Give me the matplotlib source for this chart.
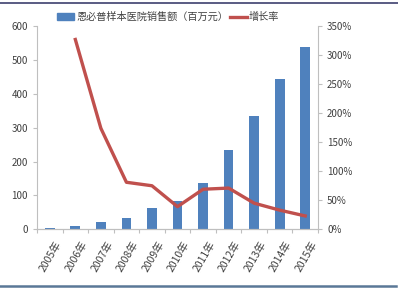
import matplotlib
matplotlib.use("Agg")
import matplotlib.pyplot as plt
from matplotlib.lines import Line2D
from matplotlib.patches import Patch

plt.rcParams['font.family'] = ['Noto Sans CJK SC', 'DejaVu Sans']

years = ["2005年", "2006年", "2007年", "2008年", "2009年", "2010年",
         "2011年", "2012年", "2013年", "2014年", "2015年"]
sales = [4, 9, 21, 34, 62, 83, 138, 234, 334, 443, 539]
growth_years = years[1:]
growth = [327, 174, 81, 75, 39, 69, 71, 45, 33, 23]

bar_label = "恩必普样本医院销售额（百万元）"
line_label = "增长率"

blue = "#4F81BD"
red = "#C0504D"
grey = "#BFBFBF"
text_c = "#404040"

fig = plt.figure(figsize=(3.98, 2.89), dpi=100)
ax = fig.add_axes([0.093, 0.2066, 0.706, 0.703])
x = list(range(len(years)))
ax.bar(x, sales, width=0.38, color=blue, zorder=2)
ax.set_xlim(-0.5, len(years) - 0.5)
ax.set_ylim(0, 600)
ax.set_yticks(range(0, 601, 100))

ax2 = ax.twinx()
ax2.plot(x[1:], growth, color=red, lw=2.4, zorder=3)
ax2.set_ylim(0, 350)
ax2.set_yticks(range(0, 351, 50))
ax2.set_yticklabels([f"{v}%" for v in range(0, 351, 50)])

for a in (ax, ax2):
    a.spines["top"].set_visible(False)
    a.spines["left"].set_color(grey)
    a.spines["right"].set_color(grey)
    a.spines["bottom"].set_color(grey)
    a.tick_params(axis="y", colors=grey, labelcolor=text_c, labelsize=7, length=3, width=0.8)
ax.spines["right"].set_visible(False)
ax2.spines["left"].set_visible(False)

# category boundary ticks on the x axis
ax.set_xticks([i - 0.5 for i in range(len(years) + 1)])
ax.set_xticklabels([""] * (len(years) + 1))
ax.tick_params(axis="x", colors=grey, length=3, width=0.8)
for i, lab in enumerate(years):
    ax.text(i + 0.2, -0.05, lab, transform=ax.get_xaxis_transform(),
            rotation=60, ha="right", va="top", fontsize=7.5, color=text_c,
            rotation_mode="anchor")

handles = [Patch(color=blue), Line2D([0], [0], color=red, lw=2.4)]
fig.legend(handles, [bar_label, line_label], loc="upper left",
           bbox_to_anchor=(0.12, 0.99), ncol=2, frameon=False,
           fontsize=7.3, handlelength=1.7, handleheight=0.6,
           handletextpad=0.2, columnspacing=0.15, labelcolor=text_c)

# frame lines top and bottom
fig.add_artist(Line2D([0, 1], [0.99, 0.99], color="#3D3F6E", lw=1.2, transform=fig.transFigure))
fig.add_artist(Line2D([0, 0.995], [0.009, 0.009], color="#5A7897", lw=1.8, transform=fig.transFigure))

fig.savefig("out.png", dpi=100)
